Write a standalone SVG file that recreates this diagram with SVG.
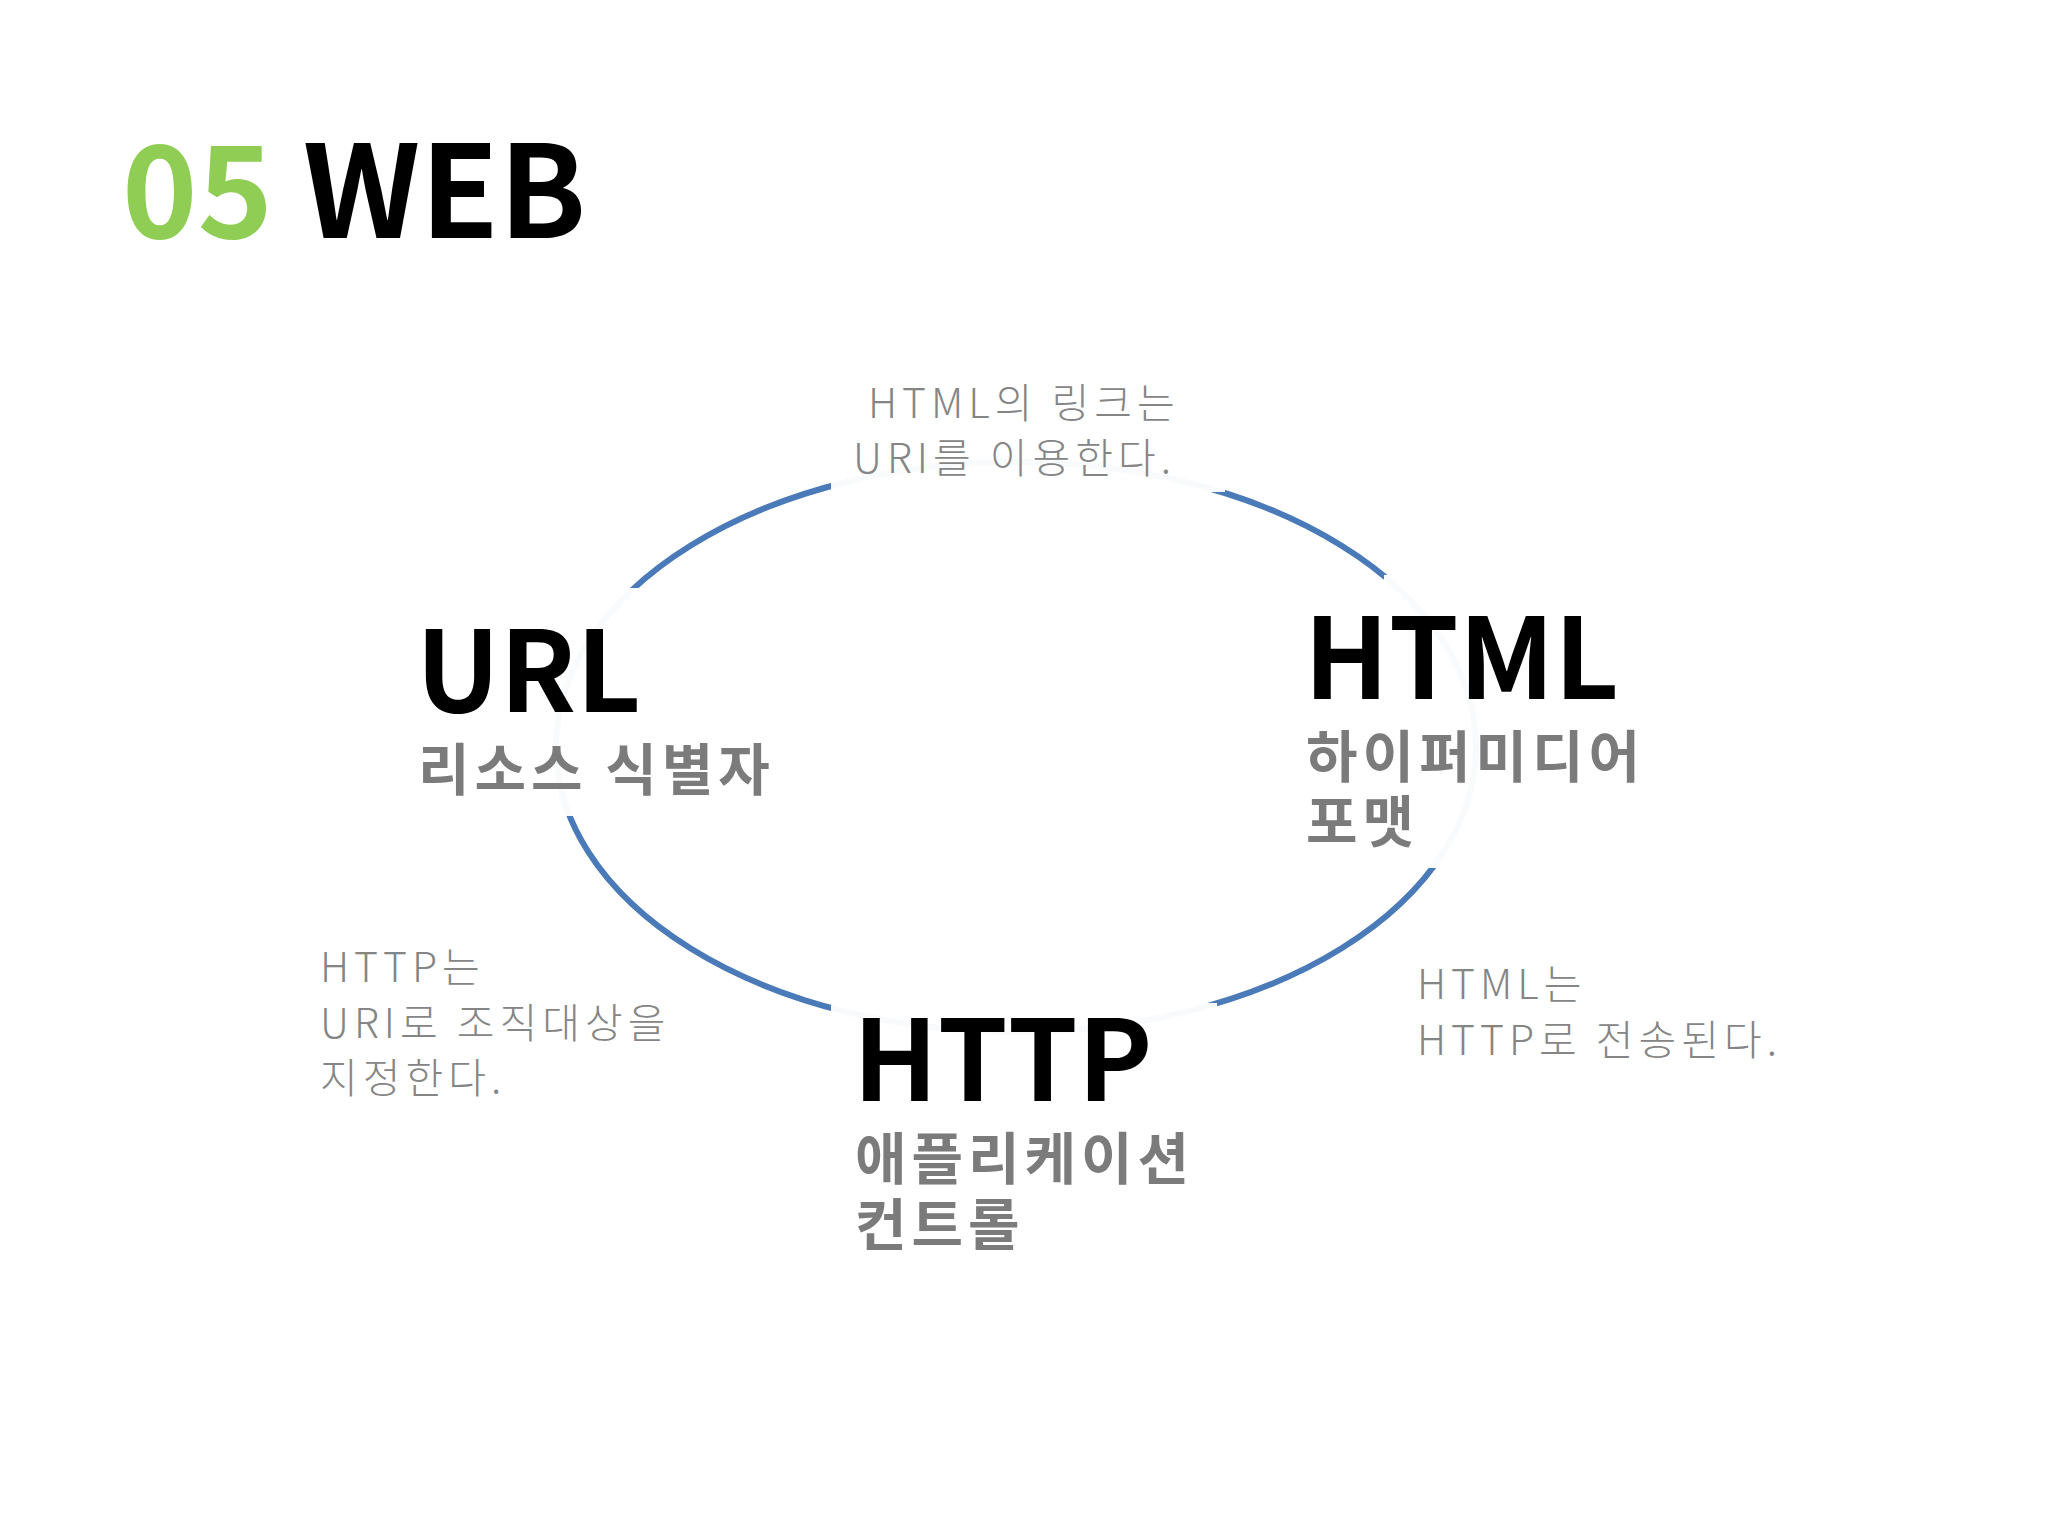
<svg xmlns="http://www.w3.org/2000/svg" width="2048" height="1536" viewBox="0 0 2048 1536">
<style>
text{font-family:"Noto Sans CJK KR","Noto Sans",sans-serif}
.big{font-size:112px;font-weight:bold;fill:#000}
.sub{font-size:56px;font-weight:bold;fill:#7b7b7b;letter-spacing:5px}
.note{font-size:41px;font-weight:300;fill:#858585;letter-spacing:5px}
.gap{fill:#fff;opacity:0.96}
</style>
<rect width="2048" height="1536" fill="#fff"/>
<g id="title"><text x="122" y="238" style="font-size:128px;font-weight:bold"><tspan fill="#8fcd54">05</tspan><tspan fill="#000" dx="30">WEB</tspan></text></g>
<g id="connectors">
<ellipse cx="1016" cy="747" rx="460" ry="285" fill="none" stroke="#4a7ab8" stroke-width="6"/>
<rect class="gap" x="831" y="440" width="394" height="52"/>
<rect class="gap" x="542" y="588" width="98" height="228"/>
<rect class="gap" x="1384" y="575" width="105" height="293"/>
<rect class="gap" x="831" y="1003" width="386" height="56"/>
</g>
<g id="url"><text class="big" x="416" y="712">URL</text><text class="sub" x="418" y="790">리소스 식별자</text></g>
<g id="html"><text class="big" x="1304" y="699">HTML</text><text class="sub" x="1306" y="777">하이퍼미디어</text><text class="sub" x="1306" y="842">포맷</text></g>
<g id="http"><text class="big" x="853" y="1101">HTTP</text><text class="sub" x="855" y="1179">애플리케이션</text><text class="sub" x="855" y="1245">컨트롤</text></g>
<g id="note-top"><text class="note" x="868" y="418">HTML의 링크는</text><text class="note" x="853" y="473">URI를 이용한다.</text></g>
<g id="note-left"><text class="note" x="320" y="982">HTTP는</text><text class="note" x="320" y="1038">URI로 조직대상을</text><text class="note" x="320" y="1093">지정한다.</text></g>
<g id="note-right"><text class="note" x="1417" y="999">HTML는</text><text class="note" x="1417" y="1055">HTTP로 전송된다.</text></g>
</svg>
